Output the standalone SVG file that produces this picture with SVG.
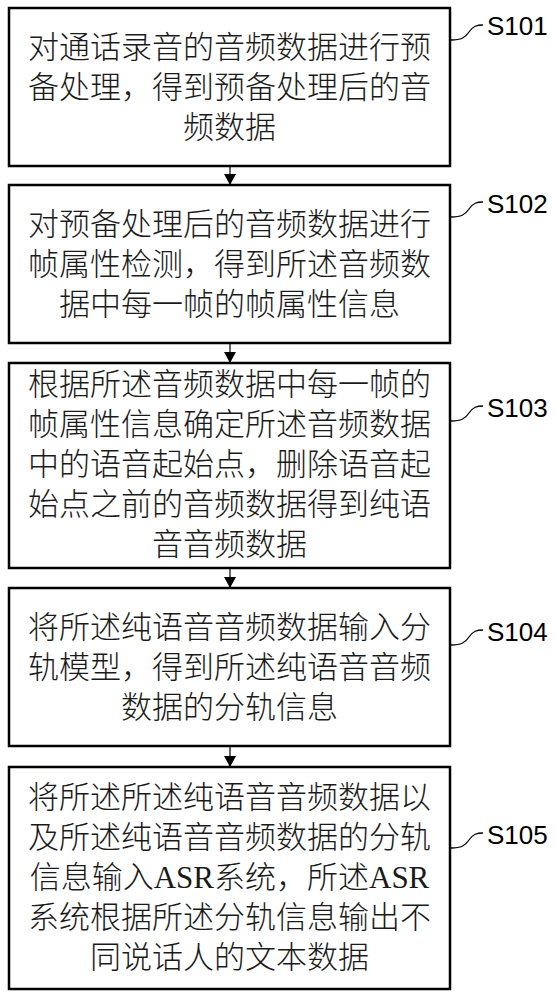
<svg xmlns="http://www.w3.org/2000/svg" width="556" height="1000" viewBox="0 0 556 1000">
<defs>
<marker id="ah" viewBox="0 0 11 12" refX="11" refY="6" markerWidth="11" markerHeight="12" markerUnits="userSpaceOnUse" orient="auto">
<path d="M0,0 L11,6 L0,12 Z" fill="#000"/>
</marker>
</defs>
<style>
.box{fill:#fff;stroke:#000;stroke-width:2.5}
.t{font-family:"Liberation Serif","Noto Sans CJK SC",serif;font-size:31px;font-weight:300;fill:#1a1a1a;text-anchor:middle}
.lbl{font-family:"Liberation Sans","Noto Sans",sans-serif;font-size:26px;fill:#000}
.sq{fill:none;stroke:#000;stroke-width:1.3}
.arr{stroke:#000;stroke-width:1.2;fill:none}
</style>
<rect width="556" height="1000" fill="#fff"/>
<g id="connectors">
<line class="arr" x1="230" y1="166" x2="230" y2="185" marker-end="url(#ah)"/>
<line class="arr" x1="230" y1="343" x2="230" y2="363" marker-end="url(#ah)"/>
<line class="arr" x1="230" y1="568" x2="230" y2="588" marker-end="url(#ah)"/>
<line class="arr" x1="230" y1="746" x2="230" y2="767" marker-end="url(#ah)"/>
</g>
<g id="S101">
<rect class="box" x="9" y="8" width="441" height="158"/>
<text class="t" x="229.5" y="58">对通话录音的音频数据进行预</text>
<text class="t" x="229.5" y="98">备处理，得到预备处理后的音</text>
<text class="t" x="229.5" y="138">频数据</text>
<path class="sq" d="M451,40 c10,0 14,-2 18,-8 c4,-6 8,-7 14,-7"/>
<text class="lbl" x="487" y="35">S101</text>
</g>
<g id="S102">
<rect class="box" x="9" y="185" width="441" height="158"/>
<text class="t" x="229.5" y="235">对预备处理后的音频数据进行</text>
<text class="t" x="229.5" y="275">帧属性检测，得到所述音频数</text>
<text class="t" x="229.5" y="315">据中每一帧的帧属性信息</text>
<path class="sq" d="M451,217 c10,0 14,-2 18,-8 c4,-6 8,-7 14,-7"/>
<text class="lbl" x="487" y="213">S102</text>
</g>
<g id="S103">
<rect class="box" x="9" y="363" width="441" height="205"/>
<text class="t" x="229.5" y="395">根据所述音频数据中每一帧的</text>
<text class="t" x="229.5" y="435">帧属性信息确定所述音频数据</text>
<text class="t" x="229.5" y="475">中的语音起始点，删除语音起</text>
<text class="t" x="229.5" y="515">始点之前的音频数据得到纯语</text>
<text class="t" x="229.5" y="555">音音频数据</text>
<path class="sq" d="M451,421 c10,0 14,-2 18,-8 c4,-6 8,-7 14,-7"/>
<text class="lbl" x="487" y="417">S103</text>
</g>
<g id="S104">
<rect class="box" x="9" y="588" width="441" height="158"/>
<text class="t" x="229.5" y="638">将所述纯语音音频数据输入分</text>
<text class="t" x="229.5" y="678">轨模型，得到所述纯语音音频</text>
<text class="t" x="229.5" y="718">数据的分轨信息</text>
<path class="sq" d="M451,645 c10,0 14,-2 18,-8 c4,-6 8,-7 14,-7"/>
<text class="lbl" x="487" y="641">S104</text>
</g>
<g id="S105">
<rect class="box" x="9" y="767" width="441" height="222"/>
<text class="t" x="229.5" y="808">将所述所述纯语音音频数据以</text>
<text class="t" x="229.5" y="848">及所述纯语音音频数据的分轨</text>
<text class="t" x="229.5" y="888">信息输入ASR系统，所述ASR</text>
<text class="t" x="229.5" y="928">系统根据所述分轨信息输出不</text>
<text class="t" x="229.5" y="968">同说话人的文本数据</text>
<path class="sq" d="M451,848 c10,0 14,-2 18,-8 c4,-6 8,-7 14,-7"/>
<text class="lbl" x="487" y="844">S105</text>
</g>
</svg>
